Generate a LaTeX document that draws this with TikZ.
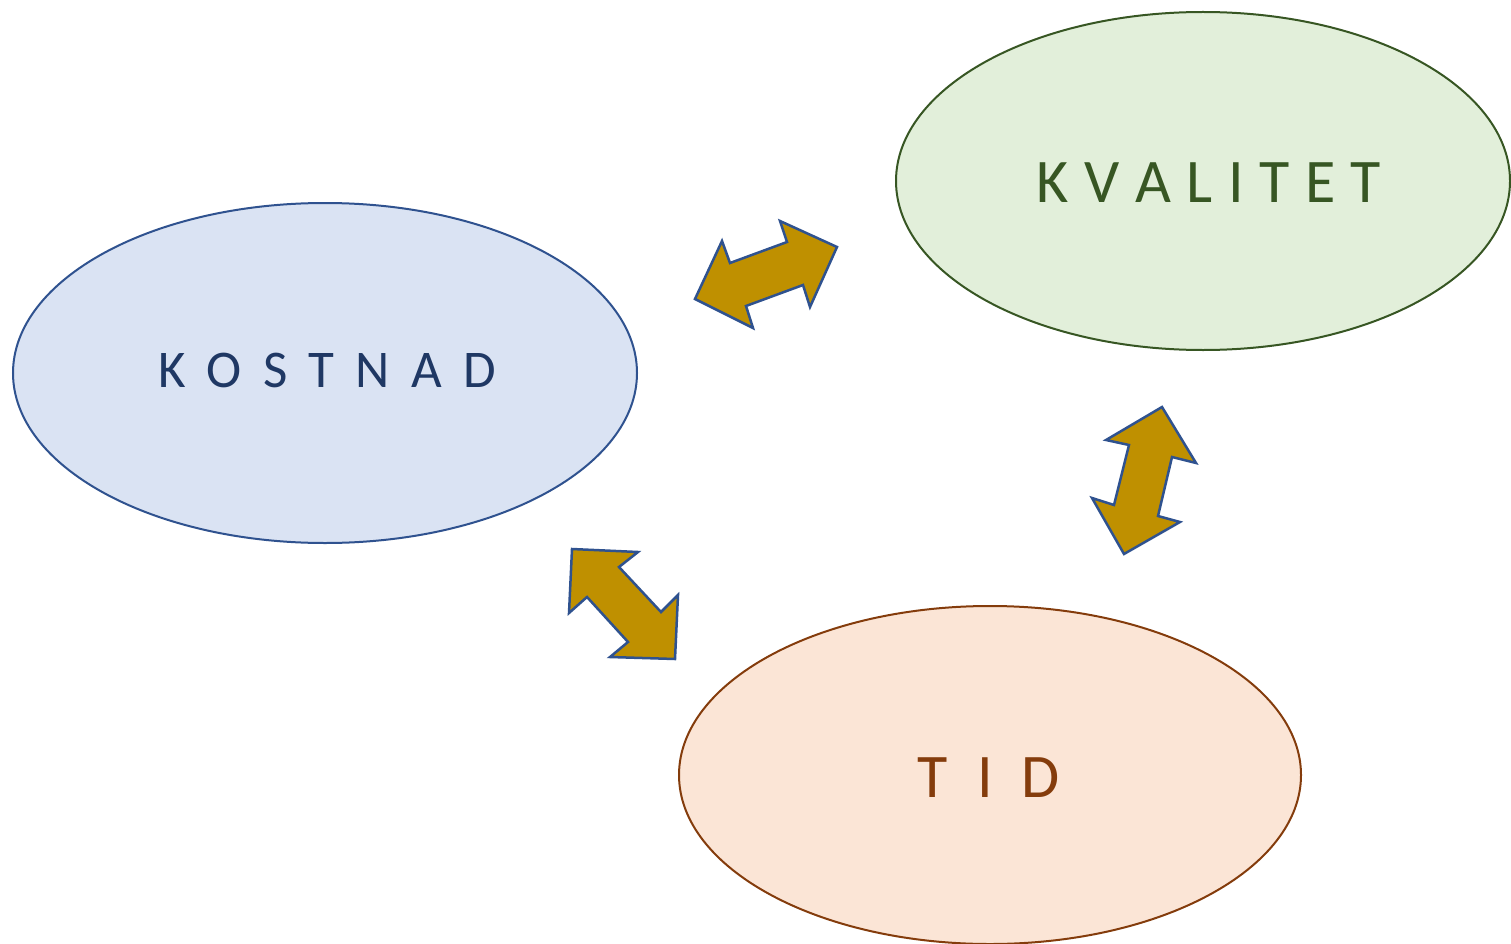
\documentclass[tikz,border=0pt]{standalone}
\usepackage{fontspec}
\setmainfont{Carlito}
\usetikzlibrary{shapes.geometric}
\definecolor{costfill}{HTML}{DAE3F3}
\definecolor{costline}{HTML}{2F528F}
\definecolor{costtext}{HTML}{1F3864}
\definecolor{qualfill}{HTML}{E2EFDA}
\definecolor{qualline}{HTML}{375623}
\definecolor{qualtext}{HTML}{375623}
\definecolor{timefill}{HTML}{FBE5D6}
\definecolor{timeline}{HTML}{843C0C}
\definecolor{timetext}{HTML}{843C0C}
\definecolor{arrowfill}{HTML}{BF9000}
\definecolor{arrowline}{HTML}{2F528F}
\newcommand\gap[1]{\kern#1}
\begin{document}
\begin{tikzpicture}[x=1pt,y=-1pt,
  bubble/.style={draw,line width=2pt},
  label/.style={anchor=base,inner sep=0pt},
  blockarrow/.style={fill=arrowfill,draw=arrowline,line width=2.5pt,line join=miter}]
\useasboundingbox (0,0) rectangle (1511,944);
% the three goal ellipses
\draw[bubble,fill=costfill,draw=costline] (325,373) ellipse [x radius=312,y radius=170];
\draw[bubble,fill=qualfill,draw=qualline] (1203,181) ellipse [x radius=307,y radius=169];
\draw[bubble,fill=timefill,draw=timeline] (990,775) ellipse [x radius=311,y radius=169];
% labels
\node[label,text=costtext,font=\fontsize{53}{60}\selectfont] (kostnad) at (327,387)
  {K\gap{.4em}O\gap{.4em}S\gap{.4em}T\gap{.4em}N\gap{.4em}A\gap{.4em}D};
\node[label,text=qualtext,font=\fontsize{62}{70}\selectfont] (kvalitet) at (1209,202)
  {K\gap{.25em}V\gap{.25em}A\gap{.25em}L\gap{.25em}I\gap{.25em}T\gap{.25em}E\gap{.25em}T};
\node[label,text=timetext,font=\fontsize{62}{70}\selectfont] (tid) at (989,797)
  {T\gap{.47em}I\gap{.47em}D};
% double-headed block arrows between the goals
\draw[blockarrow] (695,299) -- (722,241) -- (730,263) -- (787,242) -- (780,221)
  -- (837,247) -- (810,307) -- (803,285) -- (746,306) -- (753,328) -- cycle;
\draw[blockarrow] (1162,407) -- (1196,463) -- (1172,457) -- (1158,516) -- (1180,522)
  -- (1124,554) -- (1092,498) -- (1114,505) -- (1129,445) -- (1106,440) -- cycle;
\draw[blockarrow] (572,549) -- (638,552) -- (619,567) -- (661,612) -- (678,595)
  -- (675,659) -- (610,657) -- (628,642) -- (587,597) -- (569,613) -- cycle;
\end{tikzpicture}
\end{document}
